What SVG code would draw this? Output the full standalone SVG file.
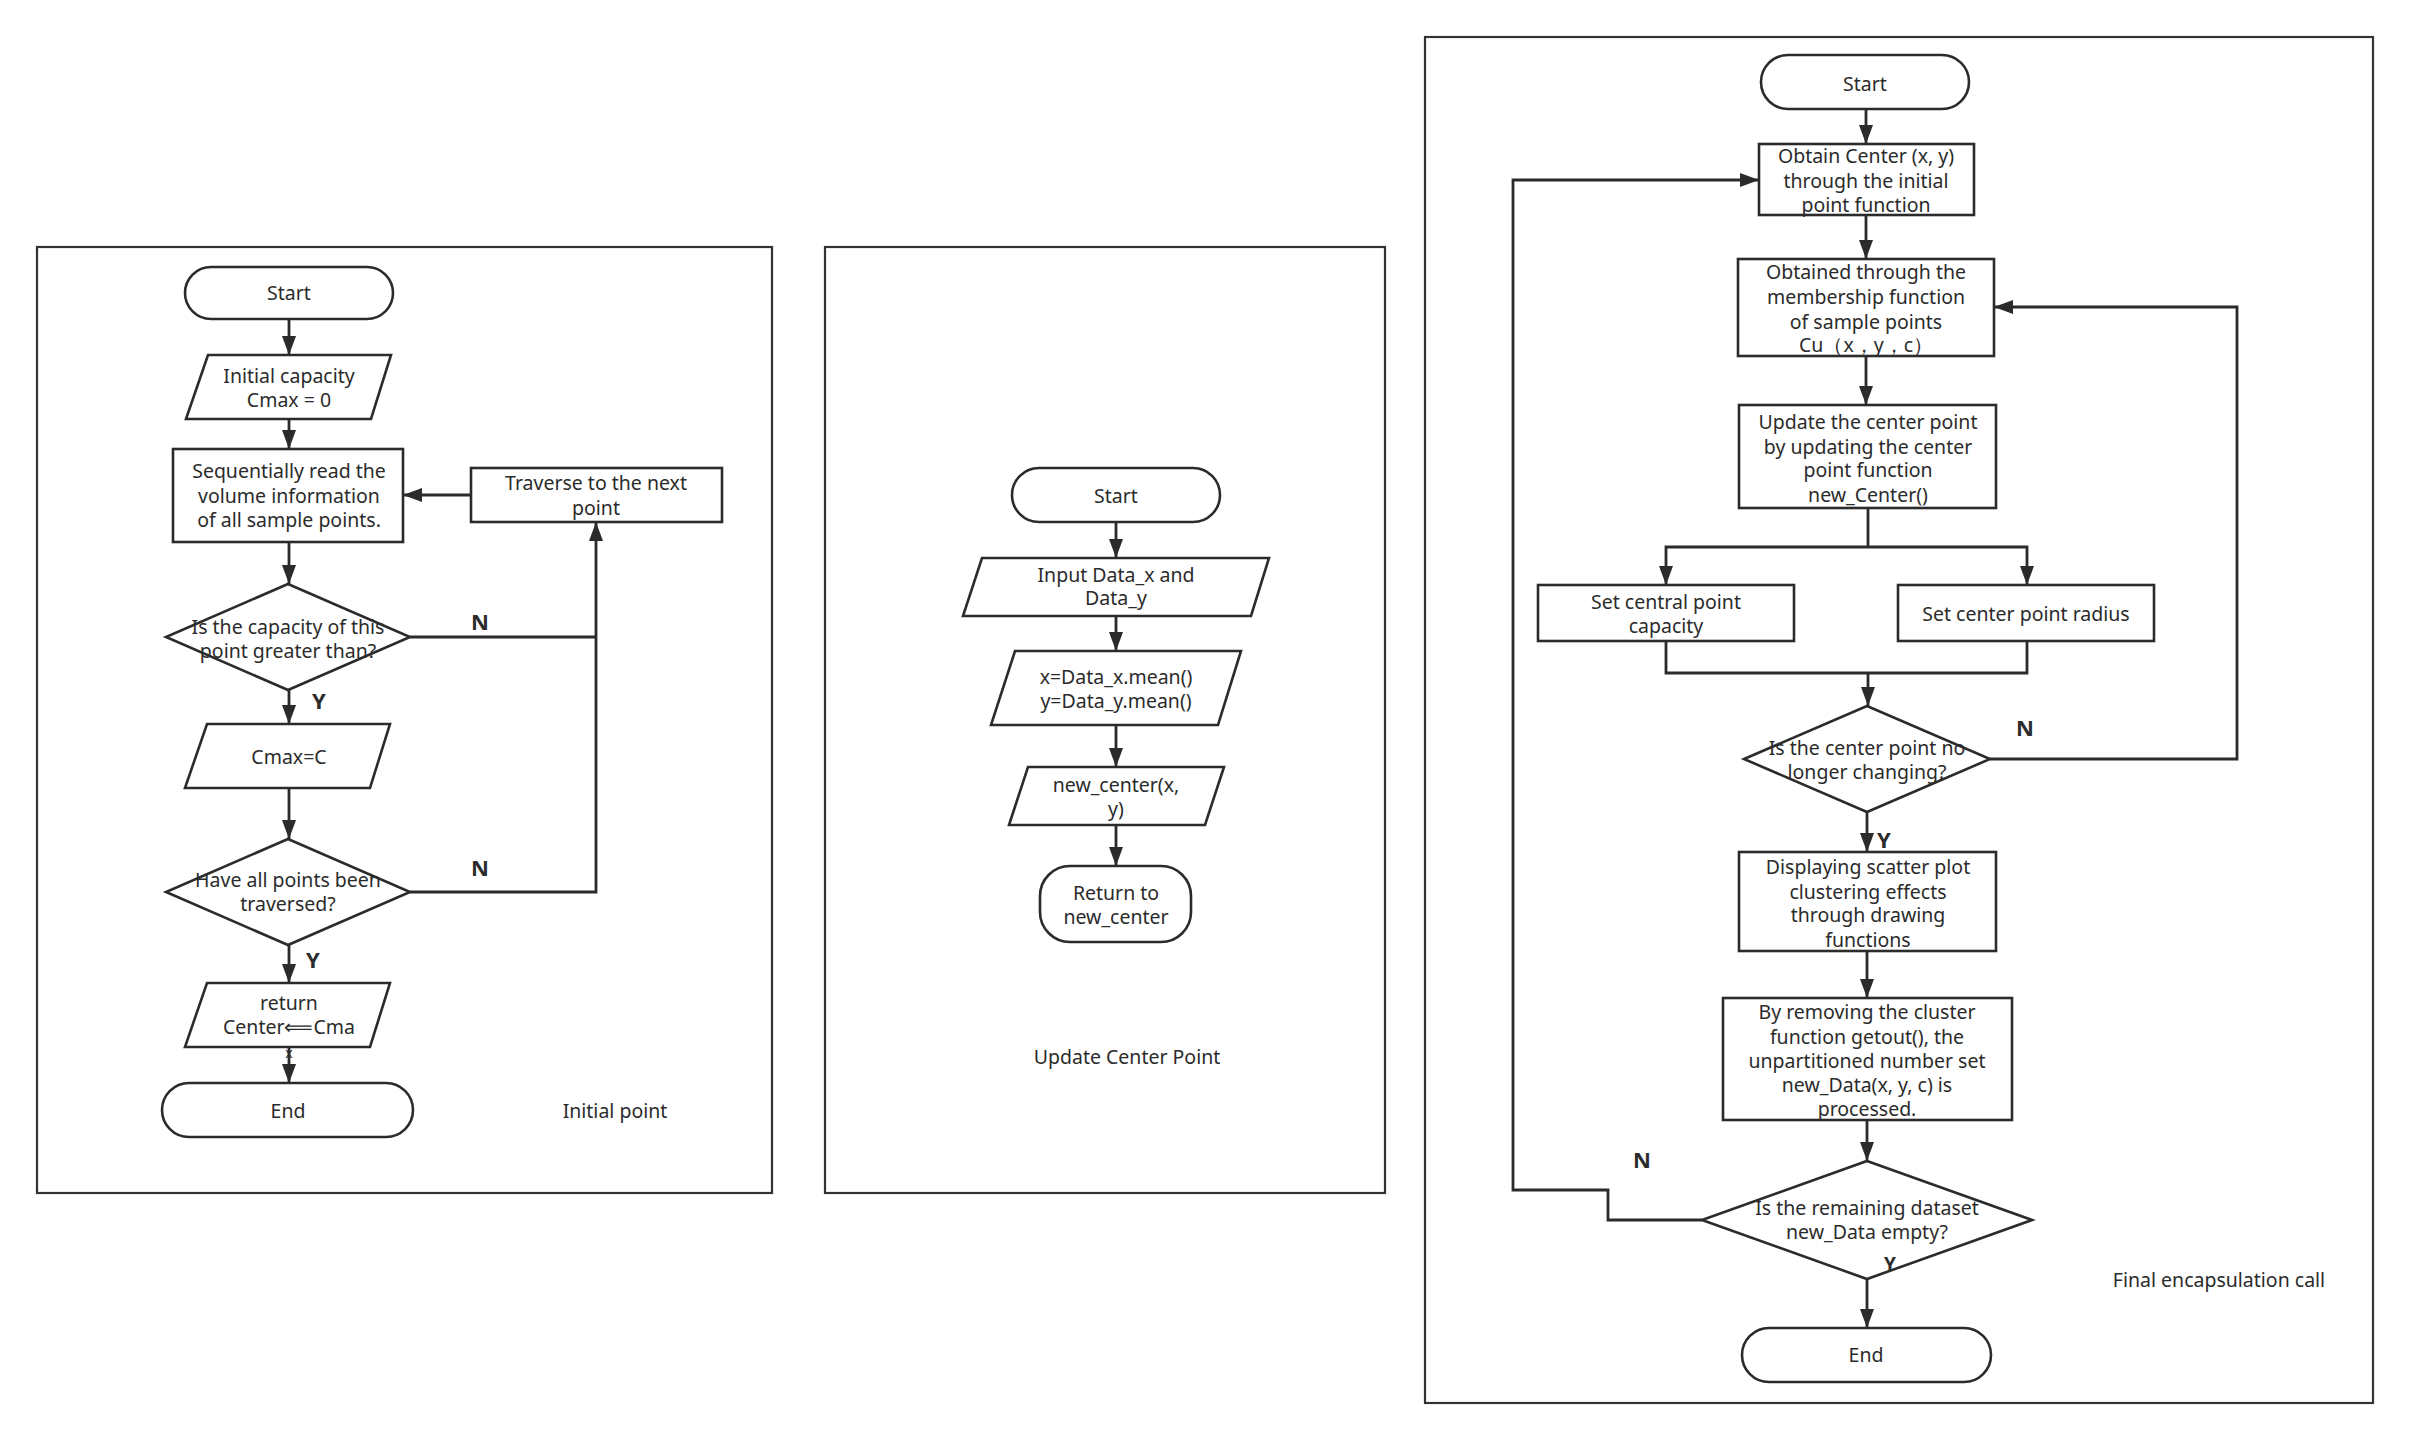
<svg xmlns="http://www.w3.org/2000/svg" width="2409" height="1440" viewBox="0 0 2409 1440">
<style>
.frame{fill:none;stroke:#333;stroke-width:2.2}
.shape{fill:#fff;stroke:#2b2b2b;stroke-width:2.6}
.t{font-family:"Noto Sans","Liberation Sans",sans-serif;font-size:19.5px;fill:#2b2b2b;text-anchor:middle}
.lbl{font-family:"Noto Sans","Liberation Sans",sans-serif;font-size:22px;font-weight:bold;fill:#2b2b2b;text-anchor:middle}
.c{fill:none;stroke:#2b2b2b;stroke-width:2.8}
.a{marker-end:url(#arr)}
</style>
<defs>
<marker id="arr" markerUnits="userSpaceOnUse" markerWidth="20" markerHeight="14" refX="19" refY="7" orient="auto">
<path d="M0,0 L19,7 L0,14 z" fill="#2b2b2b"/>
</marker>
</defs>
<rect width="2409" height="1440" fill="#fff"/>

<g id="frames">
<rect id="frame-initial" class="frame" x="37" y="247" width="735" height="946"/>
<rect id="frame-update" class="frame" x="825" y="247" width="560" height="946"/>
<rect id="frame-final" class="frame" x="1425" y="37" width="948" height="1366"/>
</g>

<g id="connectors">
<path class="c a" d="M289,319 V355"/>
<path class="c a" d="M289,419 V449"/>
<path class="c a" d="M289,542 V584"/>
<path class="c" d="M410,637 H596"/>
<path class="c a" d="M410,892 H596 V522"/>
<path class="c a" d="M471,495 H403"/>
<path class="c a" d="M289,690 V724"/>
<path class="c a" d="M289,788 V839"/>
<path class="c a" d="M289,945 V983"/>
<path class="c a" d="M289,1047 V1083"/>

<path class="c a" d="M1116,522 V558"/>
<path class="c a" d="M1116,616 V651"/>
<path class="c a" d="M1116,725 V767"/>
<path class="c a" d="M1116,825 V866"/>

<path class="c a" d="M1866,109 V144"/>
<path class="c a" d="M1866,215 V259"/>
<path class="c a" d="M1866,356 V405"/>
<path class="c" d="M1868,508 V547"/>
<path class="c a" d="M1868,547 H1666 V585"/>
<path class="c a" d="M1868,547 H2027 V585"/>
<path class="c" d="M1666,641 V673 H2027 V641"/>
<path class="c a" d="M1868,673 V706"/>
<path class="c a" d="M1990,759 H2237 V307 H1994"/>
<path class="c a" d="M1867,812 V852"/>
<path class="c a" d="M1867,951 V998"/>
<path class="c a" d="M1867,1120 V1161"/>
<path class="c a" d="M1702,1220 H1608 V1190 H1513 V180 H1759"/>
<path class="c a" d="M1867,1279 V1328"/>

<text class="lbl" x="480" y="630">N</text>
<text class="lbl" x="319" y="709">Y</text>
<text class="lbl" x="480" y="876">N</text>
<text class="lbl" x="313" y="968">Y</text>
<text class="lbl" x="2025" y="736">N</text>
<text class="lbl" x="1884" y="848">Y</text>
<text class="lbl" x="1642" y="1168">N</text>
</g>

<!-- Initial point -->
<g id="n1-start"><rect class="shape" x="185" y="267" width="208" height="52" rx="26"/><text class="t" x="289" y="300">Start</text></g>
<g id="n1-init"><polygon class="shape" points="208,355 391,355 371,419 186,419"/><text class="t" x="289" y="383">Initial capacity</text><text class="t" x="289" y="407">Cmax = 0</text></g>
<g id="n1-read"><rect class="shape" x="173" y="449" width="230" height="93"/><text class="t" x="289" y="478">Sequentially read the</text><text class="t" x="289" y="503">volume information</text><text class="t" x="289" y="527">of all sample points.</text></g>
<g id="n1-traverse"><rect class="shape" x="471" y="468" width="251" height="54"/><text class="t" x="596" y="490">Traverse to the next</text><text class="t" x="596" y="515">point</text></g>
<g id="n1-dec1"><polygon class="shape" points="288,584 410,637 288,690 166,637"/><text class="t" x="288" y="634">Is the capacity of this</text><text class="t" x="288" y="658">point greater than?</text></g>
<g id="n1-set"><polygon class="shape" points="207,724 390,724 370,788 185,788"/><text class="t" x="289" y="764">Cmax=C</text></g>
<g id="n1-dec2"><polygon class="shape" points="288,839 410,892 288,945 166,892"/><text class="t" x="288" y="887">Have all points been</text><text class="t" x="288" y="911">traversed?</text></g>
<g id="n1-return"><polygon class="shape" points="207,983 390,983 370,1047 185,1047"/><text class="t" x="289" y="1010">return</text><text class="t" x="289" y="1034">Center⟸Cma</text><text class="t" x="289" y="1058" style="font-size:14px">x</text></g>
<g id="n1-end"><rect class="shape" x="162" y="1083" width="251" height="54" rx="27"/><text class="t" x="288" y="1118">End</text></g>
<g id="n1-title"><text class="t" x="615" y="1118">Initial point</text></g>

<!-- Update Center Point -->
<g id="n2-start"><rect class="shape" x="1012" y="468" width="208" height="54" rx="27"/><text class="t" x="1116" y="503">Start</text></g>
<g id="n2-input"><polygon class="shape" points="982,558 1269,558 1251,616 963,616"/><text class="t" x="1116" y="582">Input Data_x and</text><text class="t" x="1116" y="605">Data_y</text></g>
<g id="n2-mean"><polygon class="shape" points="1015,651 1241,651 1218,725 991,725"/><text class="t" x="1116" y="684">x=Data_x.mean()</text><text class="t" x="1116" y="708">y=Data_y.mean()</text></g>
<g id="n2-new"><polygon class="shape" points="1028,767 1224,767 1205,825 1009,825"/><text class="t" x="1116" y="792">new_center(x,</text><text class="t" x="1116" y="816">y)</text></g>
<g id="n2-return"><rect class="shape" x="1040" y="866" width="151" height="76" rx="30"/><text class="t" x="1116" y="900">Return to</text><text class="t" x="1116" y="924">new_center</text></g>
<g id="n2-title"><text class="t" x="1127" y="1064">Update Center Point</text></g>

<!-- Final encapsulation call -->
<g id="n3-start"><rect class="shape" x="1761" y="55" width="208" height="54" rx="27"/><text class="t" x="1865" y="91">Start</text></g>
<g id="n3-obtain"><rect class="shape" x="1759" y="144" width="215" height="71"/><text class="t" x="1866" y="163">Obtain Center (x, y)</text><text class="t" x="1866" y="188">through the initial</text><text class="t" x="1866" y="212">point function</text></g>
<g id="n3-member"><rect class="shape" x="1738" y="259" width="256" height="97"/><text class="t" x="1866" y="279">Obtained through the</text><text class="t" x="1866" y="304">membership function</text><text class="t" x="1866" y="329">of sample points</text><text class="t" x="1866" y="352">Cu（x，y，c）</text></g>
<g id="n3-update"><rect class="shape" x="1739" y="405" width="257" height="103"/><text class="t" x="1868" y="429">Update the center point</text><text class="t" x="1868" y="454">by updating the center</text><text class="t" x="1868" y="477">point function</text><text class="t" x="1868" y="502">new_Center()</text></g>
<g id="n3-cap"><rect class="shape" x="1538" y="585" width="256" height="56"/><text class="t" x="1666" y="609">Set central point</text><text class="t" x="1666" y="633">capacity</text></g>
<g id="n3-rad"><rect class="shape" x="1898" y="585" width="256" height="56"/><text class="t" x="2026" y="621">Set center point radius</text></g>
<g id="n3-dec1"><polygon class="shape" points="1867,706 1990,759 1867,812 1744,759"/><text class="t" x="1867" y="755">Is the center point no</text><text class="t" x="1867" y="779">longer changing?</text></g>
<g id="n3-display"><rect class="shape" x="1739" y="852" width="257" height="99"/><text class="t" x="1868" y="874">Displaying scatter plot</text><text class="t" x="1868" y="899">clustering effects</text><text class="t" x="1868" y="922">through drawing</text><text class="t" x="1868" y="947">functions</text></g>
<g id="n3-remove"><rect class="shape" x="1723" y="998" width="289" height="122"/><text class="t" x="1867" y="1019">By removing the cluster</text><text class="t" x="1867" y="1044">function getout(), the</text><text class="t" x="1867" y="1068">unpartitioned number set</text><text class="t" x="1867" y="1092">new_Data(x, y, c) is</text><text class="t" x="1867" y="1116">processed.</text></g>
<g id="n3-dec2"><polygon class="shape" points="1867,1161 2032,1220 1867,1279 1702,1220"/><text class="t" x="1867" y="1215">Is the remaining dataset</text><text class="t" x="1867" y="1239">new_Data empty?</text></g>
<g id="n3-end"><rect class="shape" x="1742" y="1328" width="249" height="54" rx="27"/><text class="t" x="1866" y="1362">End</text></g>
<g id="n3-title"><text class="t" x="2219" y="1287">Final encapsulation call</text></g>
<g id="n3-ylabel"><text class="lbl" x="1890" y="1271" style="font-size:19px">Y</text></g>
</svg>
